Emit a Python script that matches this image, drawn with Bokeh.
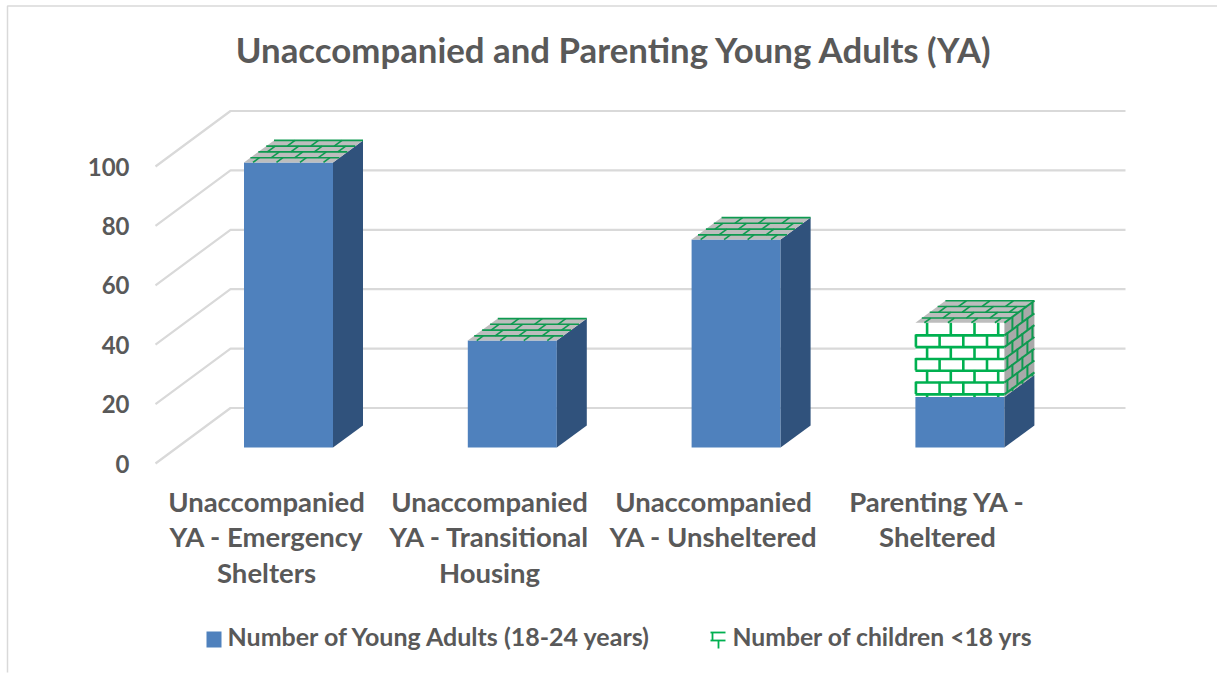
from bokeh.plotting import figure
from bokeh.embed import file_html
from bokeh.resources import INLINE
from bokeh.core.properties import value
from bokeh.models import LinearAxis, FixedTicker, Range1d

title_text = "Unaccompanied and Parenting Young Adults (YA)"
categories = ["Unaccompanied\nYA - Emergency\nShelters",
              "Unaccompanied\nYA - Transitional\nHousing",
              "Unaccompanied\nYA - Unsheltered",
              "Parenting YA -\nSheltered"]
young_adults = [96, 36, 70, 17]
children = [0, 0, 0, 25]
y_ticks = [0, 20, 40, 60, 80, 100]
series_names = ["Number of Young Adults (18-24 years)", "Number of children <18 yrs"]

W, H = 1217, 674
PX_X = 223.8   # px per category
PX_Y = 2.97    # px per value unit
X0 = 288       # px of first bar centre
Y0 = 463       # px of value 0 on the front wall edge
FONT = value("Lato")
TXT = "#595959"
GREEN = "#00B050"
GREEN_D = "#0E9A50"


def ux(px):
    return px / PX_X


def uy(px):
    return px / PX_Y


def X(px):
    return (px - X0) / PX_X


def Y(px):
    return (Y0 - px) / PX_Y


p = figure(width=W, height=H, output_backend="svg", toolbar_location=None,
           x_range=Range1d(X(0), X(W)), y_range=Range1d(Y(H), Y(0)),
           min_border=0, outline_line_color=None, margin=0)
p.grid.visible = False
p.xaxis.visible = False
p.yaxis.visible = False
p.background_fill_color = "white"

# chart area border
p.multi_line([[X(7), X(7), X(W)]], [[Y(672), Y(5.5), Y(5.5)]], line_color="#D9D9D9", line_width=1.5)

# walls' gridlines
WALL_L, WALL_R, FRONT_L = 230, 1125, 155
WALL_DY = 55.5
gx, gy = [], []
for t in y_ticks:
    gx.append([X(FRONT_L), X(WALL_L), X(WALL_R)])
    gy.append([t, t + uy(WALL_DY), t + uy(WALL_DY)])
p.multi_line(gx, gy, line_color="#D9D9D9", line_width=2.2)

# value axis
ax = LinearAxis(ticker=FixedTicker(ticks=y_ticks), fixed_location=X(138),
                axis_line_color=None, major_tick_line_color=None, minor_tick_line_color=None,
                major_label_text_font="Lato", major_label_text_font_style="bold",
                major_label_text_font_size="24px", major_label_text_color=TXT,
                major_label_standoff=3)
p.add_layout(ax, "left")

# bars
HALF = ux(44.5)
DX, DY = ux(30), uy(22)
FLOOR = uy(16)   # floor offset of bars above front wall edge

bar_x = list(range(len(categories)))
ya_top = [FLOOR + v for v in young_adults]
ch_top = [FLOOR + a + c for a, c in zip(young_adults, children)]

p.quad(left=[i - HALF for i in bar_x], right=[i + HALF for i in bar_x],
       bottom=[FLOOR] * len(bar_x), top=ya_top, fill_color="#4F81BD", line_color=None)
p.patches([[i + HALF, i + HALF + DX, i + HALF + DX, i + HALF] for i in bar_x],
          [[FLOOR, FLOOR + DY, t + DY, t] for t in ya_top],
          fill_color="#30527C", line_color=None)

# children: front + side
for i, b, t in zip(bar_x, ya_top, ch_top):
    if t > b:
        p.quad(left=[i - HALF], right=[i + HALF], bottom=[b], top=[t], fill_color="white", line_color=None)
        p.patches([[i + HALF, i + HALF + DX, i + HALF + DX, i + HALF]],
                  [[b, b + DY, t + DY, t]], fill_color="#A9A9A9", line_color=None)
# top cap
p.patches([[i - HALF, i + HALF, i + HALF + DX, i - HALF + DX] for i in bar_x],
          [[t, t, t + DY, t + DY] for t in ch_top], fill_color="#BDBDBD", line_color=None)


def brick_front(i, b, t):
    """brick lines on front face (px offsets from the face's top-left)"""
    xs, ys = [], []
    w = 89
    hpx = (t - b) * PX_Y
    left = i - HALF
    row = 0
    h = 12.6
    while h < hpx:
        xs.append([left, left + ux(w)])
        ys.append([t - uy(h), t - uy(h)])
        h += 11.8
    row_top = 0
    while row_top < hpx:
        r_bot = min(row_top + 12.2, hpx)
        start = 11.7 if row % 2 == 0 else 0.5
        s = start
        while s < w:
            xs.append([left + ux(s), left + ux(s)])
            ys.append([t - uy(row_top), t - uy(r_bot)])
            s += 23.7
        row_top += 11.8
        row += 1
    return xs, ys


def brick_side(i, b, t):
    xs, ys = [], []
    hpx = (t - b) * PX_Y
    x1 = i + HALF
    slope = 22 / 30
    h = 12.6
    while h < hpx:
        xs.append([x1, x1 + DX])
        ys.append([t - uy(h), t - uy(h) + DY])
        h += 11.8
    row_top, row = 0, 0
    while row_top < hpx:
        r_bot = min(row_top + 12.2, hpx)
        a = 8 if row % 2 == 0 else 3
        while a < 30:
            xs.append([x1 + ux(a), x1 + ux(a)])
            ys.append([t - uy(row_top) + uy(a * slope), t - uy(r_bot) + uy(a * slope)])
            a += 10
        row_top += 11.8
        row += 1
    xs.append([x1, x1 + DX])
    ys.append([t, t + DY])
    return xs, ys


def brick_top(i, t):
    xs, ys = [], []
    left = i - HALF
    shear = 30 / 22

    def pt(s, d):
        return left + ux(s + d * shear), t + uy(d)

    for d in (4.7, 10.5, 16.3, 22):
        a, c = pt(0, d), pt(89, d)
        xs.append([a[0], c[0]])
        ys.append([a[1], c[1]])
    edges = [0, 4.7, 10.5, 16.3, 22]
    for r in range(4):
        s = 9 if r % 2 == 0 else 21
        while s < 89:
            a, c = pt(s, edges[r]), pt(s, edges[r + 1])
            xs.append([a[0], c[0]])
            ys.append([a[1], c[1]])
            s += 23.5
    return xs, ys


fx, fy, sx, sy, tx, ty = [], [], [], [], [], []
for i, b, t in zip(bar_x, ya_top, ch_top):
    a, c = brick_top(i, t)
    tx += a
    ty += c
    if t > b:
        a, c = brick_front(i, b, t)
        fx += a
        fy += c
        a, c = brick_side(i, b, t)
        sx += a
        sy += c
p.multi_line(fx, fy, line_color=GREEN, line_width=2.6)
p.multi_line(sx, sy, line_color=GREEN_D, line_width=2)
p.multi_line(tx, ty, line_color=GREEN_D, line_width=1.6)

# category labels
label_px = [266, 489, 713, 937]
for lp, cat in zip(label_px, categories):
    p.text(x=[X(lp)], y=[Y(484)], text=[cat], text_font=FONT, text_font_style="bold",
           text_font_size="27.5px", text_color=TXT, text_align="center", text_baseline="top",
           text_line_height=1.09)

# title
p.text(x=[X(614)], y=[Y(48.5)], text=[title_text], text_font=FONT, text_font_style="bold",
       text_font_size="34.8px", text_color=TXT, text_align="center", text_baseline="middle")

# legend
p.quad(left=[X(206)], right=[X(221)], bottom=[Y(647)], top=[Y(631)], fill_color="#4F81BD", line_color=None)
p.multi_line([[X(710), X(725)], [X(710), X(725)], [X(712), X(712)], [X(718), X(718)]],
             [[Y(632), Y(632)], [Y(640), Y(640)], [Y(632), Y(640)], [Y(640), Y(648)]],
             line_color=GREEN, line_width=1.8)
for lx, name, size in zip([227, 732], series_names, ["25px", "24.7px"]):
    p.text(x=[X(lx)], y=[Y(635.5)], text=[name], text_font=FONT, text_font_style="bold",
           text_font_size=size, text_color=TXT, text_align="left", text_baseline="middle")

open("out.html", "w").write(file_html(p, INLINE))
